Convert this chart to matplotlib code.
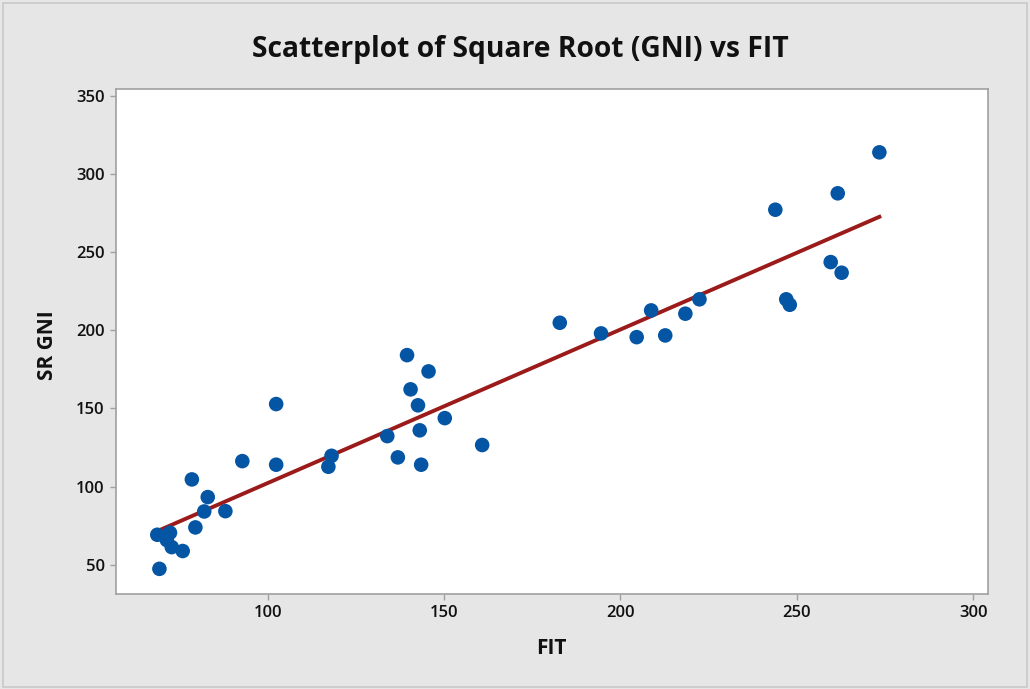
import numpy as np
import matplotlib
matplotlib.use("Agg")
import matplotlib.pyplot as plt
from matplotlib.patches import Rectangle

# Data
fit = [68.7, 72.3, 71.4, 72.8, 75.9, 69.3, 79.5, 82.0, 83.0, 88.0, 78.5, 92.8, 102.4,
       102.4, 118.1, 117.2, 133.9, 136.9, 143.5, 143.1, 142.6, 140.5, 139.5, 145.6,
       150.2, 160.8, 182.8, 194.5, 204.6, 208.7, 212.7, 218.4, 222.4, 243.9, 261.6,
       273.4, 259.6, 262.7, 247.0, 248.0]
sr_gni = [69.2, 70.5, 65.8, 61.3, 58.8, 47.4, 73.9, 84.1, 93.3, 84.3, 104.6, 116.3, 114.0,
          152.8, 119.7, 112.7, 132.3, 118.7, 114.0, 136.0, 152.0, 162.2, 184.1, 173.7,
          143.8, 126.6, 204.8, 198.0, 195.6, 212.7, 196.7, 210.6, 219.8, 277.1, 287.6,
          313.8, 243.6, 236.8, 219.8, 216.3]
x_ticks = [100, 150, 200, 250, 300]
y_ticks = [50, 100, 150, 200, 250, 300, 350]

title = "Scatterplot of Square Root (GNI) vs FIT"
xlabel = "FIT"
ylabel = "SR GNI"

plt.rcParams['font.family'] = ['Open Sans', 'DejaVu Sans']

fig = plt.figure(figsize=(10.30, 6.89), dpi=100)
fig.patch.set_facecolor('#E6E6E6')
fig.patches.append(Rectangle((0.003, 0.003), 0.994, 0.993, transform=fig.transFigure,
                             fill=False, edgecolor='#C8C8C8', linewidth=1.2))

ax = fig.add_axes([0.1123, 0.1374, 0.9589 - 0.1123, 0.8708 - 0.1374])
ax.set_facecolor('white')

x = np.array(fit)
y = np.array(sr_gni)
slope, intercept = np.polyfit(x, y, 1)
xl = np.array([x.min(), x.max()])
ax.plot(xl, intercept + slope * xl, color='#9B1B1B', linewidth=2.8, zorder=2)
ax.scatter(x, y, s=110, color='#0555A5', edgecolors='none', zorder=3)

ax.set_xlim(56.9, 304.1)
ax.set_ylim(31.1, 354.3)
ax.set_xticks(x_ticks)
ax.set_yticks(y_ticks)
ax.tick_params(axis='both', direction='out', length=4, width=1, color='#A0A0A0',
               labelsize=12, labelcolor='#111111', pad=4)
for lab in ax.get_xticklabels() + ax.get_yticklabels():
    lab.set_fontweight('semibold')
for sp in ax.spines.values():
    sp.set_color('#A0A0A0')
    sp.set_linewidth(1.2)

fig.text(0.505, 0.928, title, ha='center', va='center', fontsize=20.3,
         fontweight='bold', color='#111111')
fig.text(0.535, 0.059, xlabel, ha='center', va='center', fontsize=15,
         fontweight='bold', color='#111111')
fig.text(0.046, 0.499, ylabel, ha='center', va='center', fontsize=15,
         fontweight='bold', color='#111111', rotation=90)

fig.savefig('out.png', dpi=100, facecolor=fig.get_facecolor())
